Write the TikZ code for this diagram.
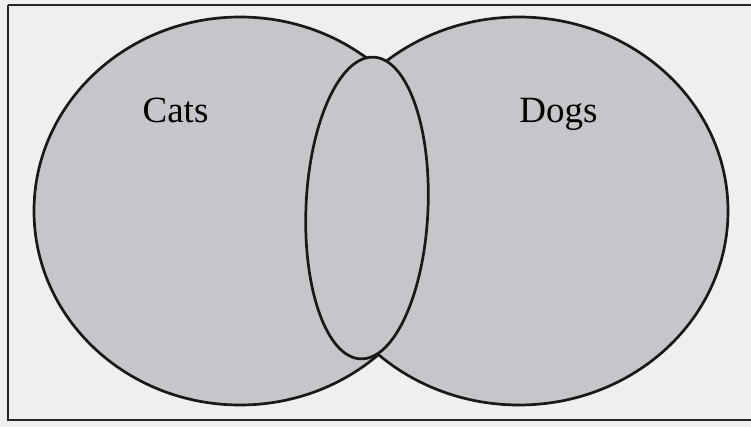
\documentclass[tikz,border=0pt]{standalone}
\usepackage{fontspec}
\setmainfont{Liberation Serif}
\usetikzlibrary{positioning}

\definecolor{paper}{RGB}{239,239,241}
\definecolor{setfill}{RGB}{199,197,201}

\begin{document}
\begin{tikzpicture}[
  x=1pt, y=-1pt,
  setline/.style={draw=black!90, line width=2.7pt, fill=setfill},
  frame/.style={draw=black!85, line width=2.2pt},
  label/.style={font=\fontsize{37}{40}\selectfont, anchor=base, inner sep=0pt},
]

\fill[paper] (0,0) rectangle (751,427);
\useasboundingbox (0,0) rectangle (751,427);

\draw[frame] (8,5) -- (755,5);
\draw[frame] (8,5) -- (8,420) -- (755,420);

% the two sets
\draw[setline] (240,211) ellipse [x radius=206, y radius=194];
\draw[setline] (519,211) ellipse [x radius=209, y radius=194];

% the overlap
\draw[setline, rotate around={-2.5:(367,208)}] (367,208) ellipse [x radius=61, y radius=151];

\node[label] (cats) at (175.5,123) {Cats};
\node[label] (dogs) at (558.5,123) {Dogs};

\end{tikzpicture}
\end{document}
